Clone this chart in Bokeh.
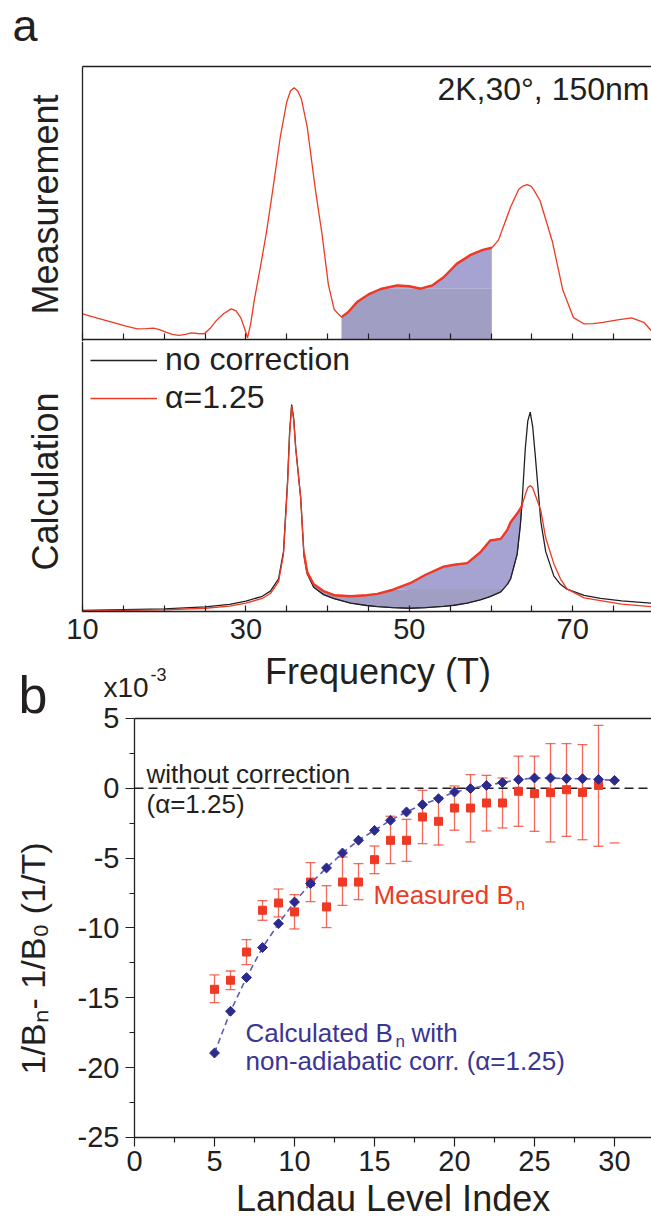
import numpy as np
from bokeh.plotting import figure
from bokeh.layouts import column
from bokeh.models import (LinearAxis, FixedTicker, Range1d, Label, Whisker,
                          TeeHead, ColumnDataSource, Legend, LegendItem,
                          NumeralTickFormatter)
from bokeh.embed import file_html
from bokeh.resources import INLINE

# ---------------- data ----------------
# panel a (top): measured spectrum
meas_freq = [10.0, 11.8, 13.7, 15.2, 16.7, 17.8, 18.7, 19.5, 20.2, 21.0,
             21.8, 22.6, 23.3, 24.1, 24.9, 25.6, 26.4, 27.3, 28.2, 28.8,
             29.4, 29.9, 30.2, 30.6, 31.0, 31.8, 32.5, 33.3, 34.2, 35.0,
             35.45, 35.9, 36.35, 36.8, 37.5, 38.5, 39.3, 40.1, 40.8, 41.7,
             42.5, 43.6, 45.0, 46.5, 48.5, 50.0, 51.4, 52.8, 54.2, 55.8,
             57.5, 59.0, 60.1, 60.9, 62.4, 63.4, 63.9, 64.4, 64.9, 65.2,
             66.0, 67.5, 68.8, 70.1, 71.4, 72.5, 73.7, 75.5, 77.2, 78.7, 79.6]
meas_amp = [0.094, 0.078, 0.063, 0.050, 0.039, 0.040, 0.042, 0.035, 0.027, 0.019,
            0.015, 0.019, 0.024, 0.022, 0.021, 0.040, 0.070, 0.095, 0.112, 0.105,
            0.078, 0.035, 0.006, 0.060, 0.140, 0.270, 0.390, 0.550, 0.740, 0.870,
            0.910, 0.922, 0.910, 0.880, 0.780, 0.550, 0.390, 0.200, 0.110, 0.082,
            0.100, 0.137, 0.165, 0.185, 0.198, 0.195, 0.186, 0.198, 0.228, 0.277,
            0.310, 0.328, 0.336, 0.363, 0.485, 0.550, 0.562, 0.567, 0.562, 0.550,
            0.509, 0.360, 0.180, 0.080, 0.057, 0.058, 0.063, 0.072, 0.079, 0.063, 0.033]
meas_shade = (41.7, 60.1)

# panel a (bottom): calculated spectra
calc_freq = [10, 15, 20, 25, 28, 30, 32, 33, 34, 34.6,
             35.1, 35.35, 35.6, 35.85, 36.1, 36.7, 37.1, 37.5, 38.3, 39.5,
             40.8, 42.8, 44.8, 46.1, 48, 50.1, 52, 54.2, 55.5, 57.1,
             58.7, 59.9, 61.2, 62.0, 62.4, 63.2, 63.6, 63.8, 64.2, 64.5,
             64.8, 65.1, 65.4, 66.1, 66.7, 67.7, 68.5, 69.3, 71.4, 73.4, 76, 79.6]
calc_nocorr = [0.004, 0.007, 0.010, 0.017, 0.026, 0.038, 0.056, 0.075, 0.12, 0.22,
               0.48, 0.66, 0.761, 0.71, 0.60, 0.42, 0.21, 0.139, 0.089, 0.062,
               0.047, 0.031, 0.022, 0.018, 0.014, 0.012, 0.014, 0.019, 0.023, 0.031,
               0.043, 0.055, 0.072, 0.10, 0.12, 0.21, 0.32, 0.40, 0.60, 0.70,
               0.733, 0.68, 0.58, 0.33, 0.22, 0.13, 0.10, 0.082, 0.059, 0.048, 0.039, 0.031]
calc_alpha = [0.002, 0.004, 0.006, 0.012, 0.020, 0.031, 0.048, 0.066, 0.11, 0.21,
              0.47, 0.65, 0.755, 0.705, 0.60, 0.42, 0.215, 0.145, 0.10, 0.075,
              0.060, 0.056, 0.060, 0.065, 0.080, 0.104, 0.135, 0.165, 0.172, 0.178,
              0.218, 0.261, 0.267, 0.30, 0.328, 0.36, 0.378, 0.39, 0.43, 0.455,
              0.463, 0.455, 0.43, 0.371, 0.27, 0.175, 0.12, 0.083, 0.050, 0.040, 0.027, 0.018]
calc_shade = (37.1, 63.8)

# panel b
ll_calc = list(range(5, 31))
dB_calc = [-18.95, -15.96, -13.55, -11.40, -9.69, -8.14, -6.82, -5.70, -4.63, -3.72,
           -3.01, -2.29, -1.69, -1.17, -0.74, -0.26, -0.02, 0.21, 0.41, 0.62,
           0.74, 0.74, 0.69, 0.69, 0.64, 0.57]
ll_meas = list(range(5, 30))
dB_meas = [-14.39, -13.74, -11.72, -8.73, -8.21, -8.85, -6.71, -8.49, -6.71, -6.71,
           -5.11, -3.72, -3.72, -2.05, -2.36, -1.41, -1.41, -1.05, -1.05, -0.21,
           -0.38, -0.31, -0.10, -0.29, 0.21]
dB_meas_hi = [-13.36, -13.08, -10.83, -8.04, -7.21, -7.61, -5.32, -6.97, -4.92, -5.39,
              -4.13, -2.00, -2.22, -0.14, -0.67, 0.17, 0.98, 0.93, 0.74, 2.31,
              2.31, 3.20, 3.20, 3.13, 4.51]
dB_meas_lo = [-15.34, -14.41, -12.62, -9.45, -9.21, -10.07, -8.11, -9.97, -8.38, -7.97,
              -6.11, -5.39, -5.23, -3.96, -4.06, -3.00, -3.84, -3.05, -2.84, -2.72,
              -3.08, -3.84, -3.44, -3.68, -4.15]
lone_cap_n = [30]
lone_cap_v = [-3.91]

x_ticks_freq = [10, 30, 50, 70]
x_minor_freq = [15, 20, 25, 35, 40, 45, 55, 60, 65, 75]
b_x_ticks = [0, 5, 10, 15, 20, 25, 30]
b_x_minor = [2.5, 7.5, 12.5, 17.5, 22.5, 27.5]
b_y_ticks = [-25, -20, -15, -10, -5, 0, 5]
b_y_minor = [-22.5, -17.5, -12.5, -7.5, -2.5, 2.5]

# ---------------- style ----------------
FONT = "Liberation Sans"
INK = "#231f20"
RED = "#ee3a24"
BLUE = "#2d2a8e"
BLUE_TXT = "#3b3593"
BLUE_LINE = "#5c5cb8"
LAV = "#a6a3d3"
LAV_GRAY = "#a19ec3"

# frames fill each canvas; axes are pinned with fixed_location
F0, F1 = -0.0367, 79.645          # frequency range across the 651 px width
N0, N1 = -8.375, 32.3125          # Landau index range across the width


def base_fig(height, xr, yr):
    p = figure(width=651, height=height, x_range=xr, y_range=yr,
               x_axis_type=None, y_axis_type=None,
               output_backend="svg", toolbar_location=None,
               min_border_left=0, min_border_right=0,
               min_border_top=0, min_border_bottom=0)
    p.outline_line_color = None
    p.background_fill_color = "white"
    p.border_fill_color = "white"
    p.title.visible = False
    return p


def add_axis(p, side, loc, bounds, ticks=(), minor=(), t_in=0, t_out=0,
             m_in=0, m_out=0, labels=False, standoff=5, formatter=None):
    ax = LinearAxis(ticker=FixedTicker(ticks=list(ticks), minor_ticks=list(minor)),
                    fixed_location=loc, bounds=bounds)
    if formatter is not None:
        ax.formatter = formatter
    ax.axis_line_color = INK
    ax.axis_line_width = 1.3
    ax.major_tick_line_color = INK
    ax.major_tick_line_width = 1.2
    ax.minor_tick_line_color = INK
    ax.minor_tick_line_width = 1.2
    ax.major_tick_in = t_in
    ax.major_tick_out = t_out
    ax.minor_tick_in = m_in
    ax.minor_tick_out = m_out
    if labels:
        ax.major_label_text_font = FONT
        ax.major_label_text_font_size = "29px"
        ax.major_label_text_color = INK
        ax.major_label_standoff = standoff
    else:
        ax.major_label_text_color = None
        ax.major_label_standoff = 0
    p.add_layout(ax, side)
    return ax


def lab(p, x, y, text, size, color=INK, align="left", angle=0.0):
    # (x, y) is the middle of the text line
    p.add_layout(Label(x=x, y=y, text=text, text_font=FONT,
                       text_font_size=f"{size}px", text_color=color,
                       text_align=align, text_baseline="middle", angle=angle))


# ---------------- panel a, top (measurement) : page y 0..341 ----------------
p1 = base_fig(341, Range1d(F0, F1), Range1d(-0.00733, 1.24176))
add_axis(p1, "below", 0, (10, F1), x_ticks_freq, x_minor_freq, t_in=6, m_in=6)
add_axis(p1, "left", 10, (-0.00733, 1.0))
add_axis(p1, "above", 1.0, (10, F1))

mf = np.array(meas_freq)
ma = np.array(meas_amp)
sel = (mf >= meas_shade[0]) & (mf <= meas_shade[1])
split_a = 0.186
p1.varea(x=mf[sel], y1=0, y2=np.minimum(ma[sel], split_a), fill_color=LAV_GRAY)
p1.varea(x=mf[sel], y1=np.minimum(ma[sel], split_a), y2=ma[sel], fill_color=LAV)
p1.line(mf, ma, line_color=RED, line_width=1.3)
p1.line(mf[sel], ma[sel], line_color=RED, line_width=2.4)

lab(p1, 1.43, 1.1487, "a", 45)
lab(p1, 5.52, 0.4945, "Measurement", 36, align="center", angle=np.pi / 2)
lab(p1, 79.40, 0.9161, "2K,30°, 150nm", 32, align="right")

# ---------------- panel a, bottom (calculation) : page y 341..650 ----------------
p2 = base_fig(309, Range1d(F0, F1), Range1d(-0.14338, 0.99265))
add_axis(p2, "below", 0, (10, F1), x_ticks_freq, x_minor_freq, t_in=6, m_in=6,
         labels=True, standoff=7)
add_axis(p2, "left", 10, (0, 0.99265))

cf = np.array(calc_freq, dtype=float)
cb = np.array(calc_nocorr)
cr = np.array(calc_alpha)
sel2 = (cf >= calc_shade[0]) & (cf <= calc_shade[1])
split_c = 0.083
lo = cb[sel2]
hi = np.maximum(cr[sel2], lo)
mid = np.minimum(hi, np.maximum(lo, split_c))
p2.varea(x=cf[sel2], y1=lo, y2=mid, fill_color=LAV_GRAY)
p2.varea(x=cf[sel2], y1=mid, y2=hi, fill_color=LAV)
p2.line(cf[sel2], lo, line_color="#4a4880", line_width=1.0)
r_black = p2.line(cf, cb, line_color=INK, line_width=1.3)
r_red = p2.line(cf, cr, line_color=RED, line_width=1.3)
p2.line(cf[sel2], cr[sel2], line_color=RED, line_width=2.4)

legend = Legend(items=[LegendItem(label="no correction", renderers=[r_black]),
                       LegendItem(label="α=1.25", renderers=[r_red])],
                location=(90, 234), glyph_width=67, glyph_height=20,
                label_standoff=8, spacing=1, padding=0, margin=0,
                label_text_font=FONT, label_text_font_size="32px",
                label_text_color=INK, border_line_color=None,
                background_fill_alpha=0)
p2.add_layout(legend)
lab(p2, 5.52, 0.478, "Calculation", 36, align="center", angle=np.pi / 2)

# ---------------- panel b : page y 650..1219 ----------------
p3 = base_fig(569, Range1d(N0, N1), Range1d(-30.871, 9.868))
add_axis(p3, "below", -25, (0, N1), b_x_ticks, b_x_minor, t_out=9, m_out=5,
         labels=True, standoff=5)
add_axis(p3, "left", 0, (-25, 5), b_y_ticks, b_y_minor, t_out=9, m_out=5,
         labels=True, standoff=6, formatter=NumeralTickFormatter(format="0"))
add_axis(p3, "above", 5, (0, N1))

p3.segment(x0=[0], y0=[0], x1=[N1], y1=[0], line_color=INK,
           line_dash="9 5", line_width=1.5)

src = ColumnDataSource(dict(n=ll_meas, v=dB_meas, hi=dB_meas_hi, lo=dB_meas_lo))
p3.add_layout(Whisker(source=src, base="n", upper="hi", lower="lo",
                      line_color=RED, line_alpha=0.75, line_width=1.3,
                      upper_head=TeeHead(size=10, line_color=RED, line_alpha=0.75, line_width=1.3),
                      lower_head=TeeHead(size=10, line_color=RED, line_alpha=0.75, line_width=1.3)))
p3.scatter(lone_cap_n, lone_cap_v, marker="dash", size=10, line_color=RED,
           line_alpha=0.75, line_width=1.3)
p3.line(ll_calc, dB_calc, line_color=BLUE_LINE, line_dash="6 4", line_width=1.6)
p3.scatter(ll_meas, dB_meas, marker="square", size=8, fill_color=RED, line_color=RED)
p3.scatter(ll_calc, dB_calc, marker="square", angle=np.pi / 4, size=7,
           fill_color=BLUE, line_color=BLUE)

lab(p3, -7.25, 6.661, "b", 52)
lab(p3, -1.94, 7.205, "x10", 28)
lab(p3, 1.0, 8.172, "-3", 18)
lab(p3, 15.22, 8.365, "Frequency (T)", 36, align="center")
lab(p3, 16.16, -29.396, "Landau Level Index", 36, align="center")
lab(p3, -6.375, -12.18, "1/Bₙ- 1/B₀ (1/T)", 34, align="center", angle=np.pi / 2)
lab(p3, 0.75, 0.997, "without correction", 26)
lab(p3, 0.75, -1.151, "(α=1.25)", 26)
lab(p3, 14.94, -7.666, "Measured B", 26, color=RED)
lab(p3, 23.81, -8.321, "n", 17, color=RED)
lab(p3, 6.94, -17.525, "Calculated B", 26, color=BLUE_TXT)
lab(p3, 16.31, -18.109, "n", 17, color=BLUE_TXT)
lab(p3, 17.31, -17.525, "with", 26, color=BLUE_TXT)
lab(p3, 6.94, -19.552, "non-adiabatic corr. (α=1.25)", 26, color=BLUE_TXT)

layout = column(p1, p2, p3, spacing=0)
open("out.html", "w").write(file_html(layout, INLINE))
